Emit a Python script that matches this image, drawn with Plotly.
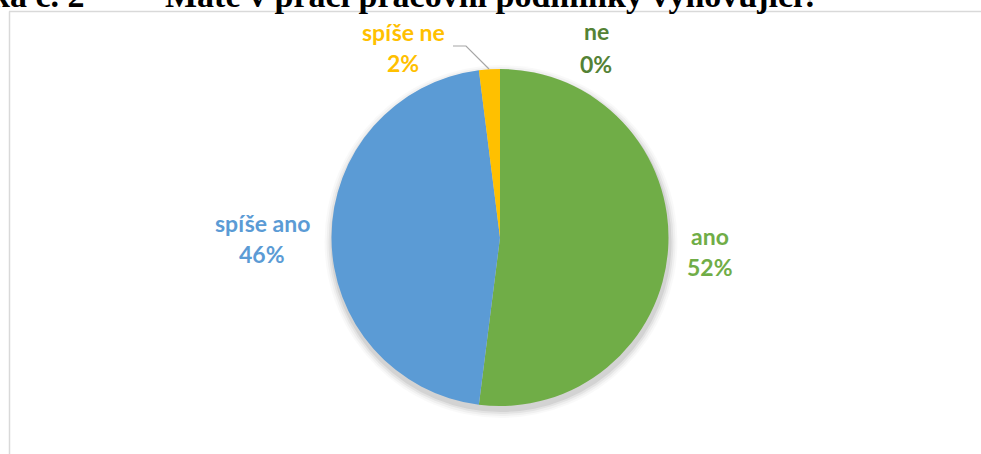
import plotly.graph_objects as go

# ---- data ----
categories = ["ano", "spíše ano", "spíše ne", "ne"]
values = [52, 46, 2, 0]
slice_colors = ["#70AD47", "#5B9BD5", "#FFC000", "#A5A5A5"]
label_colors = ["#70AD47", "#5B9BD5", "#FFC000", "#548235"]
title_prefix = "ka č. 2"
title_text = "Máte v práci pracovní podmínky vyhovující?"

W, H = 981, 454
total = sum(values)
pct = [f"{round(v / total * 100)}%" for v in values]


def px(x):
    return x / W


def py(y):
    return 1 - y / H


# pie geometry (pixels)
cx, cy, r = 500, 237.5, 168.5

fig = go.Figure()
fig.add_trace(go.Pie(
    labels=categories,
    values=values,
    sort=False,
    direction="clockwise",
    rotation=0,
    marker=dict(colors=slice_colors, line=dict(width=0)),
    textinfo="none",
    hoverinfo="skip",
    showlegend=False,
    domain=dict(x=[px(cx - r), px(cx + r)], y=[py(cy + r), py(cy - r)]),
))

shapes = []
# soft shadow behind pie
for k, op in [(8, 0.025), (6, 0.035), (4, 0.05), (2, 0.07)]:
    shapes.append(dict(type="circle", xref="paper", yref="paper", layer="below",
                       x0=px(cx - r - k + 1), x1=px(cx + r + k + 1),
                       y0=py(cy + r + k + 4), y1=py(cy - r - k + 4),
                       fillcolor=f"rgba(0,0,0,{op})", line=dict(width=0)))
# chart frame (left and top edges)
shapes.append(dict(type="line", xref="paper", yref="paper", x0=px(9.5), x1=px(9.5),
                   y0=py(11.5), y1=py(460), line=dict(color="#D9D9D9", width=1.5)))
shapes.append(dict(type="line", xref="paper", yref="paper", x0=px(9), x1=px(990),
                   y0=py(11.5), y1=py(11.5), line=dict(color="#D9D9D9", width=1.5)))
# leader line for "spíše ne"
shapes.append(dict(type="path", xref="paper", yref="paper",
                   path=f"M {px(453)} {py(46)} L {px(466)} {py(46)} L {px(489)} {py(69)}",
                   line=dict(color="#A6A6A6", width=1.2)))

annotations = []
# title (cut off at top)
tfont = dict(family="Liberation Serif", size=34, color="black")
annotations.append(dict(text=f"<b>{title_prefix}</b>", x=px(87), y=py(-5), xref="paper", yref="paper",
                        xanchor="right", yanchor="middle", showarrow=False, font=tfont))
annotations.append(dict(text=f"<b>{title_text}</b>", x=px(163), y=py(-5), xref="paper", yref="paper",
                        xanchor="left", yanchor="middle", showarrow=False, font=tfont))

# label positions: (center x, name baseline, pct baseline)
label_pos = {
    "ano": (710, 245, 276),
    "spíše ano": (262, 232, 263),
    "spíše ne": (403, 41, 72),
    "ne": (596, 40, 73),
}
fs = 23
for i, c in enumerate(categories):
    x, b1, b2 = label_pos[c]
    f = dict(family="Lato", size=fs, color=label_colors[i])
    annotations.append(dict(text=f"<b>{c}</b>", x=px(x), y=py(b1 - 0.387 * fs), xref="paper", yref="paper",
                            xanchor="center", yanchor="middle", showarrow=False, font=f))
    annotations.append(dict(text=f"<b>{pct[i]}</b>", x=px(x), y=py(b2 - 0.387 * fs), xref="paper", yref="paper",
                            xanchor="center", yanchor="middle", showarrow=False, font=f))

fig.update_layout(
    width=W, height=H,
    margin=dict(l=0, r=0, t=0, b=0),
    paper_bgcolor="white", plot_bgcolor="white",
    shapes=shapes, annotations=annotations,
)
fig.write_html("out.html", config={"displayModeBar": False},
               post_script="document.body.style.margin='0';")
